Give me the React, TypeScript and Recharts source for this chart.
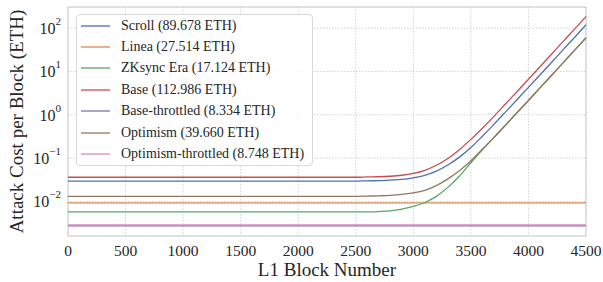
import { LineChart, Line, XAxis, YAxis, CartesianGrid, ReferenceArea } from "recharts"

// x positions (L1 block number)
const blocks = [0, 500, 1000, 1500, 2000, 2500, 2600, 2700, 2800, 2900, 3000, 3100, 3200, 3300, 3400, 3500, 3600, 3700, 3800, 3900, 4000, 4100, 4200, 4300, 4400, 4500]

// attack cost per block (ETH)
const scroll = [0.0294, 0.0294, 0.0294, 0.0294, 0.0294, 0.0294, 0.0298, 0.030, 0.031, 0.032, 0.035, 0.040, 0.050, 0.069, 0.105, 0.175, 0.32, 0.6, 1.15, 2.22, 4.3, 8.3, 16.1, 31.6, 61, 120]
const linea = [0.0092, 0.0092, 0.0092, 0.0092, 0.0092, 0.0092, 0.0092, 0.0092, 0.0092, 0.0092, 0.0092, 0.0092, 0.0092, 0.0092, 0.0092, 0.0092, 0.0092, 0.0092, 0.0092, 0.0092, 0.0092, 0.0092, 0.0092, 0.0092, 0.0092, 0.0092]
const zksync = [0.0057, 0.0057, 0.0057, 0.0057, 0.0057, 0.0057, 0.0057, 0.0058, 0.006, 0.0066, 0.0076, 0.0094, 0.013, 0.021, 0.038, 0.078, 0.155, 0.298, 0.573, 1.11, 2.14, 4.17, 8.1, 15.8, 30.7, 60]
const base = [0.036, 0.036, 0.036, 0.036, 0.036, 0.036, 0.0366, 0.037, 0.038, 0.040, 0.044, 0.052, 0.068, 0.098, 0.156, 0.27, 0.49, 0.92, 1.77, 3.4, 6.6, 12.9, 25, 49, 95, 186]
const baseThrottled = [0.0027, 0.0027, 0.0027, 0.0027, 0.0027, 0.0027, 0.0027, 0.0027, 0.0027, 0.0027, 0.0027, 0.0027, 0.0027, 0.0027, 0.0027, 0.0027, 0.0027, 0.0027, 0.0027, 0.0027, 0.0027, 0.0027, 0.0027, 0.0027, 0.0027, 0.0027]
const optimism = [0.013, 0.013, 0.013, 0.013, 0.013, 0.013, 0.0132, 0.0134, 0.0137, 0.0144, 0.0157, 0.018, 0.023, 0.033, 0.051, 0.087, 0.16, 0.30, 0.575, 1.11, 2.14, 4.17, 8.1, 15.8, 30.7, 60]
const optimismThrottled = [0.00285, 0.00285, 0.00285, 0.00285, 0.00285, 0.00285, 0.00285, 0.00285, 0.00285, 0.00285, 0.00285, 0.00285, 0.00285, 0.00285, 0.00285, 0.00285, 0.00285, 0.00285, 0.00285, 0.00285, 0.00285, 0.00285, 0.00285, 0.00285, 0.00285, 0.00285]

const xTicks = [0, 500, 1000, 1500, 2000, 2500, 3000, 3500, 4000, 4500]
const yTicks = [0.01, 0.1, 1, 10, 100]
const yExponents = ["\u22122", "\u22121", "0", "1", "2"]

const series = [
  { key: "scroll", name: "Scroll (89.678 ETH)", color: "#4c72b0", values: scroll },
  { key: "linea", name: "Linea (27.514 ETH)", color: "#dd8452", values: linea },
  { key: "zksync", name: "ZKsync Era (17.124 ETH)", color: "#55a868", values: zksync },
  { key: "base", name: "Base (112.986 ETH)", color: "#c44e52", values: base },
  { key: "baseThrottled", name: "Base-throttled (8.334 ETH)", color: "#8172b3", values: baseThrottled },
  { key: "optimism", name: "Optimism (39.660 ETH)", color: "#937860", values: optimism },
  { key: "optimismThrottled", name: "Optimism-throttled (8.748 ETH)", color: "#da8bc3", values: optimismThrottled },
]

const data = blocks.map((b, i) => {
  const row: any = { block: b }
  series.forEach((s) => { row[s.key] = s.values[i] })
  return row
})

const FONT = "'Liberation Serif', 'DejaVu Serif', serif"
const TEXT = "#262626"
const Y_MIN = 0.00158
const Y_MAX = 309

function YTick(props: any) {
  const { x, y, payload } = props
  const idx = yTicks.indexOf(payload.value)
  const exp = idx >= 0 ? yExponents[idx] : ""
  return (
    <text x={x + 1} y={y} textAnchor="end" dominantBaseline="central" fill={TEXT} fontFamily={FONT} fontSize={16}>
      <tspan>10</tspan>
      <tspan dy={-7} fontSize={11}>{exp}</tspan>
    </text>
  )
}

function LegendBox() {
  return (
    <div style={{
      position: "absolute",
      left: 76,
      top: 14,
      background: "rgba(255,255,255,0.85)",
      border: "1px solid #d9d9d9",
      borderRadius: 4,
      width: 235,
      color: TEXT,
    }}>
      {series.map((s) => (
        <div key={s.key} style={{ height: 21.4, display: "flex", alignItems: "center", whiteSpace: "nowrap" }}>
          <svg width={29} height={4} style={{ marginLeft: 4, marginRight: 11 }}>
            <line x1={0} x2={29} y1={2} y2={2} stroke={s.color} strokeWidth={1.3} />
          </svg>
          <span style={{ fontFamily: FONT, fontSize: 14 }}>{s.name}</span>
        </div>
      ))}
    </div>
  )
}

export default function App() {
  return (
    <div style={{ position: "absolute", left: 0, top: 0, width: 603, height: 282, background: "#fff" }}>
      <LineChart width={603} height={282} data={data} margin={{ top: 7, right: 17, left: 0, bottom: 0 }}>
        <CartesianGrid stroke="#d4d4d4" strokeDasharray="1.5 1.5" />
        <XAxis
          dataKey="block"
          type="number"
          domain={[0, 4500]}
          ticks={xTicks}
          height={46}
          tickLine={false}
          axisLine={false}
          tickMargin={3}
          interval={0}
          tick={{ fill: TEXT, fontFamily: FONT, fontSize: 15.5 }}
          label={() => (
            <text x={327} y={276} textAnchor="middle" fill={TEXT} fontFamily={FONT} fontSize={19}>L1 Block Number</text>
          )}
        />
        <YAxis
          scale="log"
          domain={[Y_MIN, Y_MAX]}
          allowDataOverflow
          ticks={yTicks}
          width={68}
          tickLine={false}
          axisLine={false}
          interval={0}
          tick={<YTick />}
          label={() => (
            <text x={23} y={121.5} transform="rotate(-90 23 121.5)" textAnchor="middle" fill={TEXT} fontFamily={FONT} fontSize={19}>Attack Cost per Block (ETH)</text>
          )}
        />
        <ReferenceArea x1={0} x2={4500} y1={Y_MIN} y2={Y_MAX} fill="none" stroke="#cccccc" strokeWidth={1} ifOverflow="visible" />
        {series.map((s) => (
          <Line
            key={s.key}
            dataKey={s.key}
            name={s.name}
            stroke={s.color}
            strokeWidth={1.3}
            dot={false}
            type="monotone"
            isAnimationActive={false}
          />
        ))}
      </LineChart>
      <LegendBox />
    </div>
  )
}
